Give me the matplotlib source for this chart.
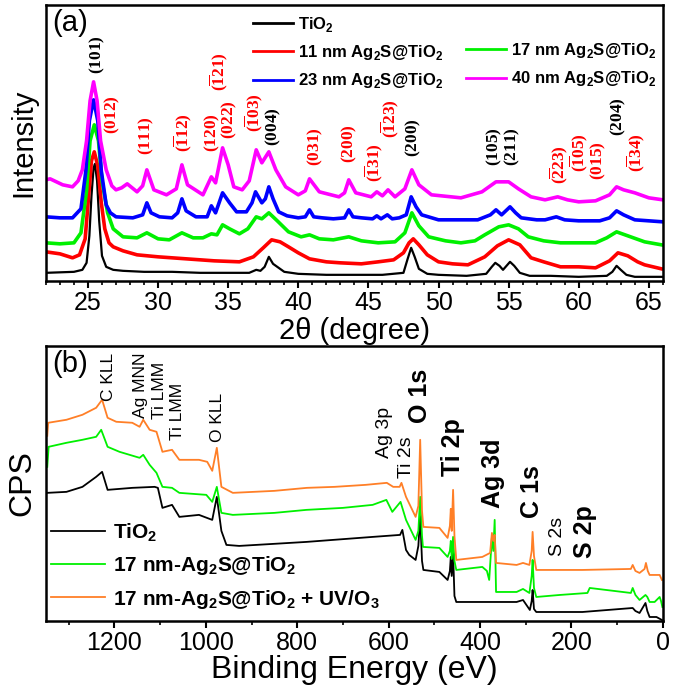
import numpy as np
import matplotlib
matplotlib.use('Agg')
import matplotlib.pyplot as plt
from matplotlib.lines import Line2D
from matplotlib.ticker import MultipleLocator

plt.rcParams['font.family'] = ['Liberation Sans', 'DejaVu Sans']
plt.rcParams['mathtext.fontset'] = 'custom'
plt.rcParams['mathtext.rm'] = 'Liberation Serif'
plt.rcParams['mathtext.bf'] = 'Liberation Serif:bold'
plt.rcParams['mathtext.sf'] = 'Liberation Sans:bold'

# ---- (a) XRD patterns, 2theta in degree, intensity in arb. units
tio2_x = [22, 23, 24, 24.6, 24.9, 25.1, 25.25, 25.4, 25.5, 25.65, 25.8, 26.0, 26.3, 26.8, 27.5, 29, 31, 33, 35,
          36.5, 37.0, 37.3, 37.6, 37.9, 38.2, 38.6, 39.0, 40, 42, 44, 46, 47.5, 47.8, 48.05, 48.3, 48.6, 49.2,
          50, 52, 53.4, 53.8, 54.05, 54.35, 54.6, 54.85, 55.1, 55.4, 55.8, 56.5, 58, 60, 62, 62.4, 62.7, 63.0,
          63.4, 64, 66]
tio2_y = [8, 8.5, 9, 11, 18, 45, 85, 113, 117, 100, 60, 25, 14, 11, 10, 9, 9, 8, 8,
          8, 11, 10, 14, 24, 17, 13, 9, 7, 6, 6, 6, 8, 22, 33, 24, 12, 7,
          6, 5, 7, 14, 18, 15, 11, 15, 19, 15, 8, 5, 5, 4, 5, 9, 15, 11,
          6, 4, 4]

nm11_x = [22, 23, 23.9, 24.4, 24.8, 25.05, 25.25, 25.45, 25.7, 25.95, 26.2, 26.5, 26.8, 27.5, 28.5, 30, 32, 34,
          35.8, 36.8, 37.5, 38.1, 38.7, 39.3, 40.0, 40.8, 42, 43, 44.5, 45.7, 46.8, 47.5, 47.9, 48.2, 48.6,
          49.2, 50, 51, 52.1, 53.3, 54.2, 55.0, 55.8, 56.6, 57.5, 58.7, 60, 61.2, 62.2, 62.8, 63.5, 64.2,
          64.7, 65.9]
nm11_y = [29, 27, 23, 26, 42, 85, 120, 129, 115, 78, 52, 38, 34, 30, 26, 24, 22, 20,
          19, 24, 33, 41, 39, 34, 28, 22, 19, 18, 17, 19, 21, 28, 38, 42, 36,
          26, 19, 17, 16, 24, 35, 41, 36, 23, 19, 14, 14, 13, 20, 28, 25, 19,
          16, 12]

nm17_x = [22, 23, 24.0, 24.5, 24.9, 25.15, 25.45, 25.75, 26.0, 26.4, 26.8, 27.5, 28.5, 29.2, 30.0, 30.8, 31.7,
          32.5, 33.2, 33.8, 34.2, 34.6, 35.1, 35.8, 36.4, 37.0, 37.4, 37.9, 38.5, 39.3, 40.2, 40.8, 41.5,
          42.5, 43.6, 44.5, 45.7, 46.9, 47.6, 48.1, 48.6, 49.3, 50.5, 51.6, 52.6, 53.3, 54.3, 55.0, 55.7,
          56.4, 57.5, 58.7, 60, 61.2, 62.0, 62.7, 63.5, 64.7, 65.9]
nm17_y = [38, 37, 38, 48, 90, 140, 156, 140, 100, 68, 52, 44, 43, 48, 42, 41, 48,
          43, 43, 47, 46, 56, 52, 47, 52, 64, 62, 68, 60, 49, 44, 46, 42,
          41, 44, 40, 38, 39, 48, 68, 55, 44, 40, 38, 40, 46, 54, 56, 52,
          44, 40, 38, 38, 38, 43, 49, 45, 39, 36]

nm23_x = [22, 23, 23.9, 24.5, 24.85, 25.1, 25.4, 25.7, 25.95, 26.3, 26.6, 27.0, 28.2, 28.9, 29.2, 29.5, 30.1,
          31.0, 31.4, 31.7, 32.0, 32.7, 33.5, 33.8, 34.1, 34.45, 34.6, 34.8, 35.1, 35.6, 36.3, 36.7, 36.95,
          37.4, 37.65, 37.9, 38.2, 38.6, 39.2, 40.0, 40.5, 40.8, 41.1, 41.7, 42.5, 43.3, 43.6, 43.9, 44.5,
          45.3, 45.6, 45.9, 46.35, 46.7, 47.2, 47.7, 48.05, 48.4, 48.8, 50.0, 51.5, 52.8, 53.7, 54.1, 54.5,
          55.1, 55.5, 55.9, 57.0, 57.6, 58.4, 59.0, 60.0, 61.5, 62.2, 62.7, 63.2, 64.0, 65.0, 66]
nm23_y = [64, 63, 63, 72, 110, 160, 181, 160, 110, 76, 68, 64, 63, 66, 78, 68, 64,
          63, 68, 82, 70, 64, 64, 75, 68, 82, 88, 84, 78, 69, 69, 78, 89,
          78, 82, 94, 82, 69, 65, 63, 64, 71, 64, 63, 62, 63, 71, 64, 63,
          62, 65, 62, 66, 62, 63, 66, 84, 74, 66, 61, 61, 61, 66, 71, 66,
          74, 68, 63, 61, 61, 64, 61, 60, 60, 63, 70, 66, 61, 60, 59]

nm40_x = [22, 22.3, 23.2, 23.9, 24.3, 24.6, 24.9, 25.15, 25.4, 25.65, 25.9, 26.3, 26.7, 27.0, 27.4, 27.8, 28.5,
          28.9, 29.2, 29.7, 30.6, 31.3, 31.7, 32.1, 33.2, 33.8, 34.1, 34.6, 35.0, 35.4, 36.0, 36.5, 37.0,
          37.4, 37.9, 38.4, 39.1, 40.0, 40.5, 40.8, 41.5, 42.9, 43.3, 43.6, 44.1, 45.2, 45.6, 46.0, 46.4,
          46.9, 47.6, 48.1, 48.6, 49.5, 51.6, 53.1, 54.1, 55.0, 55.7, 56.6, 57.6, 58.5, 59.2, 60.0, 61.2,
          62.2, 62.7, 63.2, 64.0, 65.0, 66]
nm40_y = [101, 102, 96, 94, 100, 111, 140, 180, 199, 180, 140, 111, 95, 91, 93, 97, 89,
          95, 111, 91, 86, 92, 116, 96, 86, 104, 98, 133, 116, 94, 91, 100, 131,
          118, 129, 111, 94, 86, 90, 102, 89, 84, 88, 101, 88, 84, 89, 85, 91,
          84, 92, 111, 96, 86, 83, 89, 99, 99, 92, 84, 81, 84, 81, 79, 80,
          86, 94, 91, 88, 83, 81]

# (hkl) labels: text, 2theta, height, colour key
hkl_labels = [
    (r'$\mathbf{(101)}$', 25.64, 226, 'k'), (r'$\mathbf{(012)}$', 26.71, 166, 'r'),
    (r'$\mathbf{(111)}$', 29.2, 145, 'r'), (r'$\mathbf{(\overline{1}12)}$', 31.77, 148, 'r'),
    (r'$\mathbf{(120)}$', 33.84, 148, 'r'), (r'$\mathbf{(\overline{1}21)}$', 34.34, 209, 'r'),
    (r'$\mathbf{(022)}$', 35.1, 161, 'r'), (r'$\mathbf{(\overline{1}03)}$', 36.85, 168, 'r'),
    (r'$\mathbf{(004)}$', 38.2, 154, 'k'), (r'$\mathbf{(031)}$', 41.19, 134, 'r'),
    (r'$\mathbf{(200)}$', 43.68, 137, 'r'), (r'$\mathbf{(\overline{1}31)}$', 45.4, 118, 'r'),
    (r'$\mathbf{(\overline{1}23)}$', 46.54, 162, 'r'), (r'$\mathbf{(200)}$', 48.18, 143, 'k'),
    (r'$\mathbf{(105)}$', 53.98, 134, 'k'), (r'$\mathbf{(211)}$', 55.3, 134, 'k'),
    (r'$\mathbf{(\overline{2}23)}$', 58.6, 116, 'r'), (r'$\mathbf{(\overline{1}05)}$', 59.98, 128, 'r'),
    (r'$\mathbf{(015)}$', 61.4, 120, 'r'), (r'$\mathbf{(204)}$', 62.8, 164, 'k'),
    (r'$\mathbf{(\overline{1}34)}$', 64.08, 128, 'r'),
]

# ---- (b) XPS survey, binding energy in eV, counts in arb. units
uv_x = [1347, 1345, 1305, 1270, 1240, 1227, 1215, 1196, 1161, 1145, 1137, 1123, 1108, 1095, 1074, 1058, 1015, 997,
        986, 976, 966, 941, 850, 779, 718, 650, 604, 590, 576, 572, 562, 541, 535, 531, 527, 524, 489, 471, 466,
        464, 462, 459, 456, 452, 395, 378, 374, 371, 368, 365, 320, 306, 292, 287, 285, 282, 277, 176, 70, 66,
        60, 51, 40, 37, 33, 29, 18, 7, 2]
uv_y = [185, 198, 201, 206, 213, 221, 203, 199, 198, 194, 201, 191, 189, 169, 171, 161, 161, 159,
        150, 173, 134, 128, 130, 133, 134, 136, 138, 134, 134, 138, 124, 104, 115, 181, 110, 94, 93, 83, 95,
        112, 90, 131, 85, 61, 64, 68, 88, 80, 86, 58, 56, 58, 56, 70, 89, 65, 51, 51, 52, 56,
        50, 48, 52, 58, 50, 46, 46, 46, 41]

ag17_x = [1347, 1344, 1305, 1270, 1240, 1229, 1215, 1189, 1145, 1137, 1123, 1108, 1095, 1074, 1058, 999, 986, 976,
          966, 941, 850, 780, 700, 635, 605, 592, 574, 562, 541, 535, 531, 527, 525, 489, 471, 466, 464, 462,
          459, 456, 452, 395, 385, 380, 374, 371, 368, 365, 320, 306, 292, 287, 285, 282, 277, 226, 165, 160,
          70, 66, 60, 51, 38, 34, 29, 18, 7, 4, 1]
ag17_y = [154, 174, 178, 181, 184, 191, 174, 169, 163, 166, 156, 148, 134, 133, 128, 126, 119, 134,
          108, 106, 108, 111, 113, 116, 121, 109, 119, 101, 81, 90, 124, 85, 74, 73, 64, 70, 80, 62,
          84, 60, 51, 54, 50, 41, 84, 70, 101, 29, 29, 32, 28, 45, 61, 33, 24, 26, 28, 33,
          28, 33, 26, 21, 26, 24, 19, 19, 24, 20, 14]

xps_tio2_x = [1347, 1305, 1270, 1240, 1227, 1215, 1161, 1112, 1105, 1095, 1074, 1058, 1015, 986, 976, 966, 955,
              927, 780, 635, 575, 570, 562, 555, 541, 535, 531, 527, 524, 489, 471, 466, 464, 462, 459, 456,
              452, 395, 320, 306, 291, 287, 285, 282, 277, 176, 66, 60, 51, 38, 34, 29, 14, 2]
xps_tio2_y = [128, 129, 134, 144, 149, 131, 133, 134, 133, 113, 116, 104, 106, 101, 124, 90, 76,
              75, 79, 84, 86, 91, 71, 66, 61, 75, 105, 60, 51, 49, 41, 50, 64, 45, 68, 25,
              19, 19, 19, 21, 11, 20, 31, 12, 9, 9, 13, 10, 8, 18, 10, 4, 4, 1]

# peak labels: text, energy, height, bold
xps_labels = [
    ('C KLL', 1214, 244, False), ('Ag MNN', 1144, 235, False), ('Ti LMM', 1101, 230, False),
    ('Ti LMM', 1061, 209, False), ('O KLL', 974, 203, False), ('Ag 3p', 608, 188, False),
    ('Ti 2s', 562, 164, False), ('O 1s', 532, 225, True), ('Ti 2p', 460, 174, True),
    ('Ag 3d', 372, 148, True), ('C 1s', 287, 129, True), ('S 2s', 230, 84, False),
    ('S 2p', 171, 89, True),
]

fig = plt.figure(figsize=(6.75, 6.9), dpi=100)
ax1 = fig.add_axes([0.068, 0.593, 0.914, 0.4])
ax2 = fig.add_axes([0.068, 0.1, 0.914, 0.399])

# ---------- panel (a)
ax1.plot(tio2_x, tio2_y, color='black', lw=1.6)
ax1.plot(nm11_x, nm11_y, color='#FF0000', lw=2.6)
ax1.plot(nm17_x, nm17_y, color='#00F000', lw=2.6)
ax1.plot(nm23_x, nm23_y, color='#0000FF', lw=2.6)
ax1.plot(nm40_x, nm40_y, color='#FF00FF', lw=2.6)

for txt, x, y, c in hkl_labels:
    ax1.text(x, y, txt, rotation=90, ha='center', va='center', fontsize=12.5,
             color='black' if c == 'k' else '#FF0000')

ax1.set_xlim(22, 66)
ax1.set_ylim(0, 276)
ax1.xaxis.set_major_locator(MultipleLocator(5))
ax1.xaxis.set_minor_locator(MultipleLocator(1))
ax1.set_yticks([])
ax1.tick_params(axis='x', which='major', direction='out', length=5, width=1.5, labelsize=18, pad=2)
ax1.tick_params(axis='x', which='minor', direction='out', length=3, width=1.2)
ax1.set_xlabel('2θ (degree)', fontsize=21, labelpad=2)
ax1.set_ylabel('Intensity', fontsize=21, labelpad=6)
ax1.text(0.01, 0.985, '(a)', transform=ax1.transAxes, fontsize=21, ha='left', va='top')

sub2 = r'$_\mathsf{2}$'
h = [Line2D([], [], color='black', lw=2), Line2D([], [], color='#FF0000', lw=2),
     Line2D([], [], color='#0000FF', lw=2), Line2D([], [], color='none'),
     Line2D([], [], color='#00F000', lw=2), Line2D([], [], color='#FF00FF', lw=2)]
lab = ['TiO' + sub2, '11 nm Ag' + sub2 + 'S@TiO' + sub2, '23 nm Ag' + sub2 + 'S@TiO' + sub2, ' ',
       '17 nm Ag' + sub2 + 'S@TiO' + sub2, '40 nm Ag' + sub2 + 'S@TiO' + sub2]
ax1.legend(h, lab, ncol=2, loc='upper left', bbox_to_anchor=(0.335, 0.963), frameon=False,
           prop={'weight': 'bold', 'size': 12}, handlelength=2.4, handletextpad=0.3,
           columnspacing=1.4, labelspacing=0.55, borderpad=0, borderaxespad=0)

# ---------- panel (b)
l1, = ax2.plot(xps_tio2_x, xps_tio2_y, color='black', lw=1.3)
l2, = ax2.plot(ag17_x, ag17_y, color='#00F000', lw=1.3)
l3, = ax2.plot(uv_x, uv_y, color='#FF7F27', lw=1.3)

for txt, x, y, bold in xps_labels:
    size = 18 if bold else (14 if txt in ('Ag 3p', 'Ti 2s', 'S 2s') else 12.5)
    ax2.text(x, y, txt, rotation=90, ha='center', va='center', fontsize=size,
             fontweight='bold' if bold else 'normal')

ax2.set_xlim(1350, 0)
ax2.set_ylim(0, 275)
ax2.xaxis.set_major_locator(MultipleLocator(200))
ax2.xaxis.set_minor_locator(MultipleLocator(100))
ax2.set_yticks([])
ax2.tick_params(axis='x', which='major', direction='out', length=5, width=1.5, labelsize=18, pad=2)
ax2.tick_params(axis='x', which='minor', direction='out', length=3, width=1.2)
ax2.set_xlabel('Binding Energy (eV)', fontsize=23, labelpad=0)
ax2.set_ylabel('CPS', fontsize=23, labelpad=6)
ax2.text(0.01, 0.985, '(b)', transform=ax2.transAxes, fontsize=21, ha='left', va='top')

ax2.legend([l1, l2, l3], ['TiO' + sub2, '17 nm-Ag' + sub2 + 'S@TiO' + sub2,
                          '17 nm-Ag' + sub2 + 'S@TiO' + sub2 + ' + UV/O' + r'$_\mathsf{3}$'],
           loc='lower left', bbox_to_anchor=(0.005, 0.03), frameon=False,
           prop={'weight': 'bold', 'size': 15}, handlelength=2.6, handletextpad=0.35,
           labelspacing=0.5, borderpad=0.1, borderaxespad=0)

for ax in (ax1, ax2):
    for s in ax.spines.values():
        s.set_linewidth(1.8)

fig.savefig('out.png', dpi=100)
